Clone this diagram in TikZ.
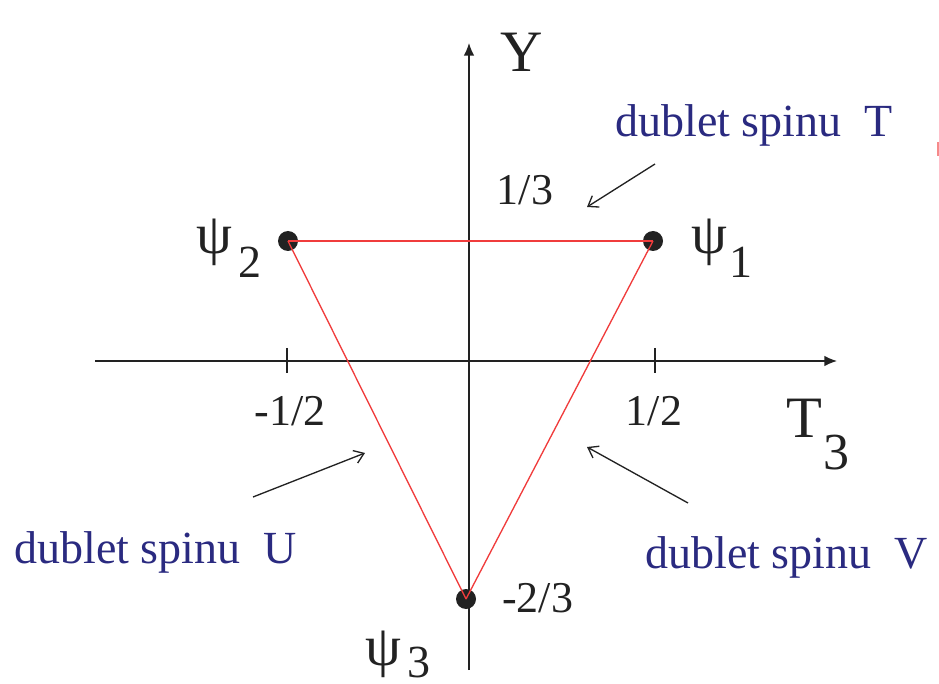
\documentclass[tikz,border=0pt]{standalone}
\usepackage{fontspec}
\setmainfont{Liberation Serif}
\usetikzlibrary{arrows.meta}
\definecolor{navy}{RGB}{42,42,128}
\definecolor{ink}{RGB}{34,34,34}
\definecolor{edge}{RGB}{240,60,60}
\newcommand{\bigpsi}{{\fontsize{43}{48}\selectfont ψ}}
\tikzset{
  axis/.style={draw=ink, line width=1.1pt, -{Latex[length=9.5pt,width=8pt]}},
  tick/.style={draw=ink, line width=1.1pt},
  tri/.style={draw=edge, line width=1pt},
  dot/.style={circle, fill=ink, inner sep=0pt, minimum size=15pt},
  lbl/.style={text=navy, font=\fontsize{34.5}{40}\selectfont, inner sep=0pt},
  num/.style={text=ink, font=\fontsize{33}{38}\selectfont, inner sep=0pt},
  sym/.style={text=ink, font=\fontsize{34.5}{40}\selectfont, inner sep=0pt, anchor=base west},
  pointer/.style={draw=ink, line width=1pt, -{Straight Barb[length=7pt,width=10pt]}},
}
\begin{document}
\begin{tikzpicture}[x=0.75pt, y=-0.75pt]
\useasboundingbox (0,0) rectangle (939,684);
% axes
\coordinate (xl) at (95,361);
\coordinate (xr) at (837,361);
\coordinate (yb) at (469,670);
\coordinate (yt) at (469,43);
\draw[axis] (xl) -- (xr);
\draw[axis] (yb) -- (yt);
% ticks
\coordinate (t1a) at (287,348); \coordinate (t1b) at (287,373);
\coordinate (t2a) at (655,348); \coordinate (t2b) at (655,373);
\draw[tick] (t1a) -- (t1b);
\draw[tick] (t2a) -- (t2b);
% points
\node[dot] (p1) at (653,241) {};
\node[dot] (p2) at (288,241) {};
\node[dot] (p3) at (466,599) {};
\draw[tri] (p2.center) -- (p1.center);
\draw[tri] (p1.center) -- (p3.center);
\draw[tri] (p3.center) -- (p2.center);
% axis labels
\node[sym, font=\fontsize{44}{50}\selectfont] (ylab) at (500,72) {Y};
\node[sym, font=\fontsize{44}{50}\selectfont] (tlab) at (786,437) {T\kern1pt\lower24pt\hbox{\fontsize{39}{44}\selectfont 3}};
% numbers
\node[num, anchor=base] (nm12) at (290,425) {-1/2};
\node[num, anchor=base] (n12) at (654,425) {1/2};
\node[num, anchor=base] (n13) at (525,205) {1/3};
\node[num, anchor=base west] (nm23) at (502,612) {-2/3};
% psi labels
\node[sym] (psi1) at (691,254) {\bigpsi\kern2pt\lower17.5pt\hbox{1}};
\node[sym] (psi2) at (196,254) {\bigpsi\kern5pt\lower17.5pt\hbox{2}};
\node[sym] (psi3) at (365,665) {\bigpsi\kern5pt\smash{\lower9pt\hbox{3}}};
% doublet labels
\node[lbl, anchor=base west] (dT) at (615,137) {dublet spinu\ \ T};
\node[lbl, anchor=base west] (dU) at (14,563) {dublet spinu\ \ U};
\node[lbl, anchor=base west] (dV) at (645,568) {dublet spinu\ \ V};
% pointers
\coordinate (aT1) at (655,164); \coordinate (aT2) at (587,207);
\coordinate (aU1) at (253,497); \coordinate (aU2) at (365,453);
\coordinate (aV1) at (688,503); \coordinate (aV2) at (587,447);
\draw[pointer] (aT1) -- (aT2);
\draw[pointer] (aU1) -- (aU2);
\draw[pointer] (aV1) -- (aV2);
% small red mark at right edge
\coordinate (m1) at (938,142); \coordinate (m2) at (938,156);
\draw[draw=edge!60, line width=1pt] (m1) -- (m2);
\end{tikzpicture}
\end{document}
